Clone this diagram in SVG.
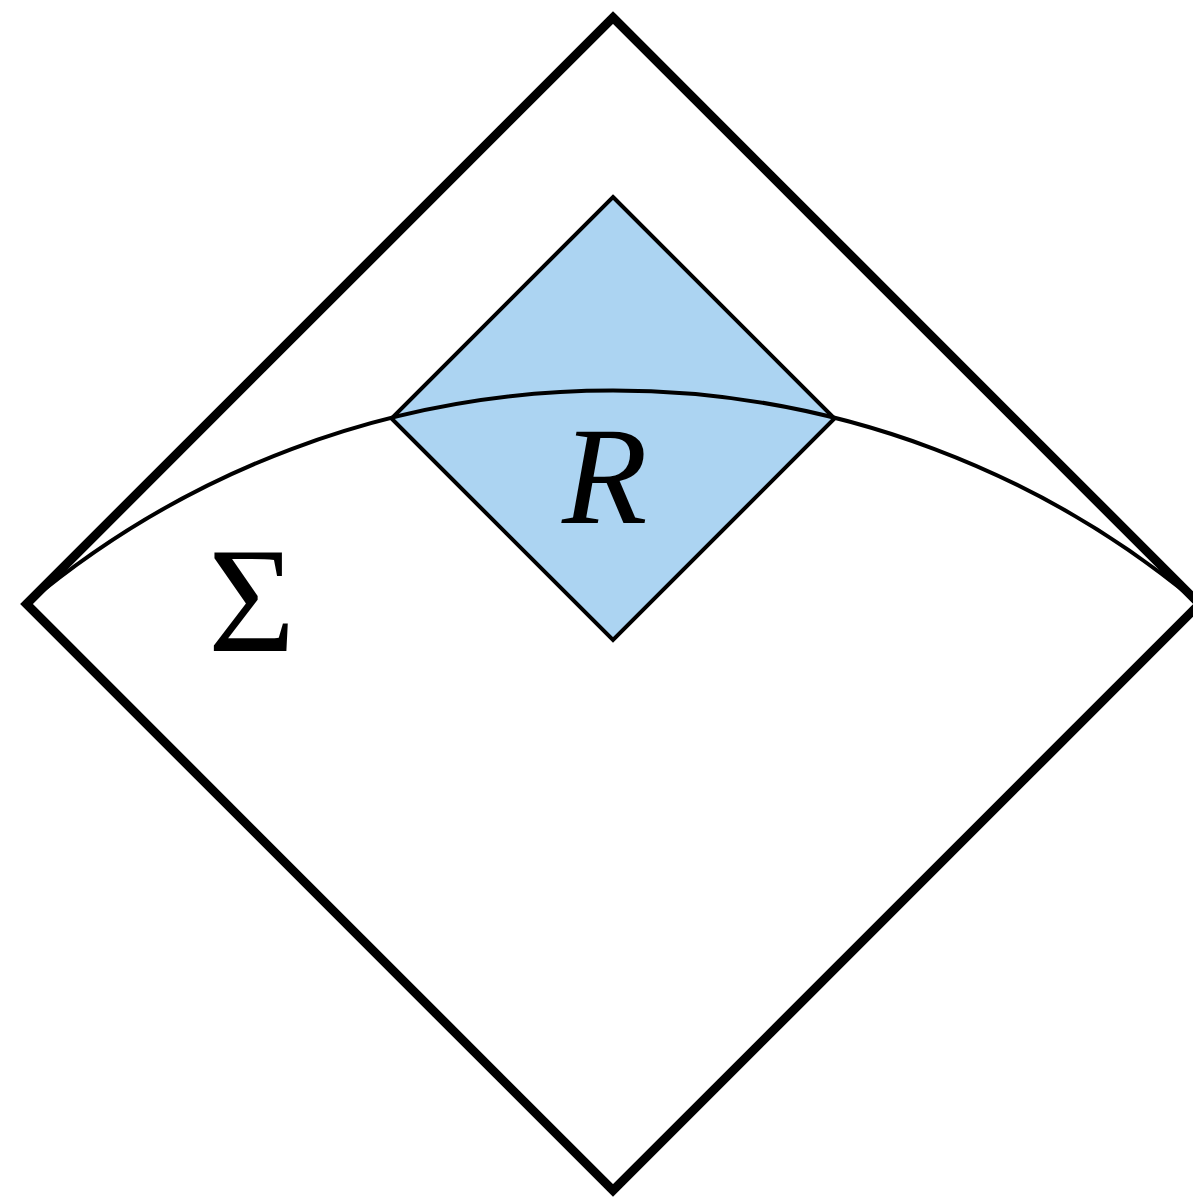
<svg xmlns="http://www.w3.org/2000/svg" width="1193" height="1197" viewBox="0 0 1193 1197">
<style>
.outer{fill:none;stroke:#000;stroke-width:9;stroke-linejoin:miter;stroke-miterlimit:10}
.region{fill:#acd4f2;stroke:#000;stroke-width:4;stroke-linejoin:miter}
.slice{fill:none;stroke:#000;stroke-width:4}
.lbl{fill:#000;font-family:"Liberation Serif","Times New Roman",serif}
</style>
<rect width="1193" height="1197" fill="#fff"/>
<g id="spacetime">
<path class="outer" d="M613,17.5 L1199.5,604 L613,1190.5 L26.5,604 Z"/>
</g>
<g id="R">
<path class="region" d="M613,197 L834.5,418.5 L613,640 L391.5,418.5 Z"/>
<text class="lbl" x="562" y="523" font-size="140" font-style="italic">R</text>
</g>
<g id="connectors">
<path id="Sigma-curve" class="slice" d="M26.5,604 A912.3,912.3 0 0 1 1199.5,604"/>
</g>
<g id="Sigma">
<text class="lbl" x="208" y="651" font-size="150">Σ</text>
</g>
</svg>
